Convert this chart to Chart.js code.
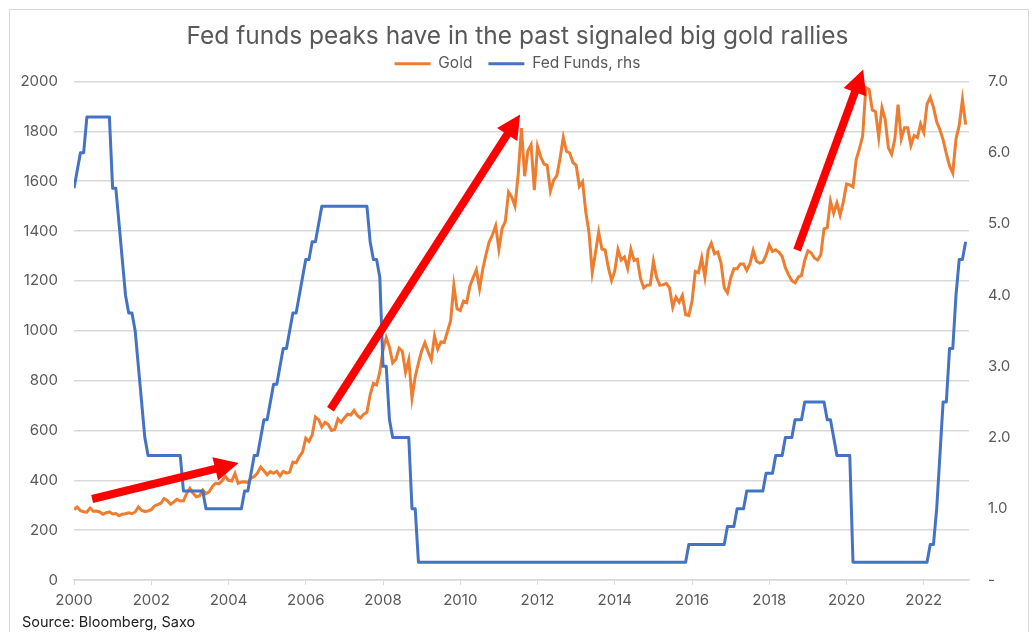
<!DOCTYPE html>
<html>
<head>
<meta charset="utf-8">
<script src="https://cdn.jsdelivr.net/npm/chart.js@4/dist/chart.umd.min.js"></script>
<style>
  body { margin: 0; background: #fff; }
  #wrap { position: relative; width: 1035px; height: 632px; overflow: hidden; }
  #frame { position: absolute; left: 9px; top: 9px; width: 1018px; height: 640px; border: 1px solid #d9d9d9; }
  #source { position: absolute; left: 22px; top: 613px; font: 14.5px Inter, sans-serif; color: #222; }
  canvas { position: absolute; left: 0; top: 0; }
</style>
</head>
<body>
<div id="wrap">
  <div id="frame"></div>
  <canvas id="chart" width="1035" height="632"></canvas>
  <div id="source">Source: Bloomberg, Saxo</div>
</div>
<script>
// monthly, Jan 2000 .. Feb 2023
const startYear = 2000;

const gold = [
  283, 293, 278, 274, 272, 289, 276, 277, 273, 264, 270, 273,
  265, 267, 258, 264, 266, 270, 266, 273, 293, 279, 275, 277,
  282, 297, 302, 308, 327, 318, 304, 313, 324, 317, 318, 347,
  368, 348, 334, 337, 361, 346, 354, 375, 388, 386, 398, 416,
  400, 397, 427, 388, 393, 394, 391, 408, 415, 429, 453, 438,
  422, 435, 428, 436, 418, 436, 429, 433, 473, 470, 495, 513,
  569, 556, 582, 654, 643, 614, 633, 624, 600, 604, 646, 632,
  650, 665, 662, 680, 660, 650, 665, 673, 743, 789, 783, 834,
  923, 972, 934, 871, 886, 930, 918, 834, 884, 730, 815, 870,
  919, 952, 916, 884, 979, 926, 955, 953, 996, 1040, 1182, 1088,
  1081, 1119, 1113, 1180, 1213, 1244, 1169, 1248, 1307, 1357, 1385, 1421,
  1327, 1411, 1439, 1556, 1536, 1500, 1628, 1813, 1620, 1722, 1746, 1564,
  1740, 1697, 1669, 1664, 1561, 1604, 1622, 1692, 1776, 1720, 1713, 1675,
  1664, 1579, 1598, 1476, 1393, 1234, 1313, 1396, 1328, 1324, 1253, 1202,
  1240, 1326, 1284, 1296, 1250, 1327, 1282, 1287, 1210, 1172, 1183, 1184,
  1279, 1213, 1183, 1184, 1190, 1172, 1095, 1135, 1115, 1142, 1065, 1061,
  1118, 1238, 1233, 1293, 1215, 1322, 1351, 1309, 1316, 1273, 1173, 1152,
  1211, 1249, 1249, 1268, 1268, 1242, 1269, 1322, 1280, 1271, 1275, 1303,
  1345, 1318, 1325, 1315, 1298, 1253, 1224, 1201, 1192, 1215, 1222, 1282,
  1321, 1313, 1292, 1284, 1305, 1409, 1413, 1520, 1472, 1513, 1464, 1517,
  1589, 1585, 1577, 1687, 1730, 1781, 1975, 1968, 1886, 1879, 1776, 1895,
  1848, 1734, 1708, 1769, 1907, 1770, 1814, 1814, 1743, 1783, 1775, 1829,
  1796, 1909, 1937, 1897, 1838, 1807, 1766, 1711, 1661, 1633, 1769, 1824,
  1928, 1827
];

const fedFunds = [
  5.5, 5.75, 6.0, 6.0, 6.5, 6.5, 6.5, 6.5, 6.5, 6.5, 6.5, 6.5,
  5.5, 5.5, 5.0, 4.5, 4.0, 3.75, 3.75, 3.5, 3.0, 2.5, 2.0, 1.75,
  1.75, 1.75, 1.75, 1.75, 1.75, 1.75, 1.75, 1.75, 1.75, 1.75, 1.25, 1.25,
  1.25, 1.25, 1.25, 1.25, 1.25, 1.0, 1.0, 1.0, 1.0, 1.0, 1.0, 1.0,
  1.0, 1.0, 1.0, 1.0, 1.0, 1.25, 1.25, 1.5, 1.75, 1.75, 2.0, 2.25,
  2.25, 2.5, 2.75, 2.75, 3.0, 3.25, 3.25, 3.5, 3.75, 3.75, 4.0, 4.25,
  4.5, 4.5, 4.75, 4.75, 5.0, 5.25, 5.25, 5.25, 5.25, 5.25, 5.25, 5.25,
  5.25, 5.25, 5.25, 5.25, 5.25, 5.25, 5.25, 5.25, 4.75, 4.5, 4.5, 4.25,
  3.0, 3.0, 2.25, 2.0, 2.0, 2.0, 2.0, 2.0, 2.0, 1.0, 1.0, 0.25,
  0.25, 0.25, 0.25, 0.25, 0.25, 0.25, 0.25, 0.25, 0.25, 0.25, 0.25, 0.25,
  0.25, 0.25, 0.25, 0.25, 0.25, 0.25, 0.25, 0.25, 0.25, 0.25, 0.25, 0.25,
  0.25, 0.25, 0.25, 0.25, 0.25, 0.25, 0.25, 0.25, 0.25, 0.25, 0.25, 0.25,
  0.25, 0.25, 0.25, 0.25, 0.25, 0.25, 0.25, 0.25, 0.25, 0.25, 0.25, 0.25,
  0.25, 0.25, 0.25, 0.25, 0.25, 0.25, 0.25, 0.25, 0.25, 0.25, 0.25, 0.25,
  0.25, 0.25, 0.25, 0.25, 0.25, 0.25, 0.25, 0.25, 0.25, 0.25, 0.25, 0.25,
  0.25, 0.25, 0.25, 0.25, 0.25, 0.25, 0.25, 0.25, 0.25, 0.25, 0.25, 0.5,
  0.5, 0.5, 0.5, 0.5, 0.5, 0.5, 0.5, 0.5, 0.5, 0.5, 0.5, 0.75,
  0.75, 0.75, 1.0, 1.0, 1.0, 1.25, 1.25, 1.25, 1.25, 1.25, 1.25, 1.5,
  1.5, 1.5, 1.75, 1.75, 1.75, 2.0, 2.0, 2.0, 2.25, 2.25, 2.25, 2.5,
  2.5, 2.5, 2.5, 2.5, 2.5, 2.5, 2.25, 2.25, 2.0, 1.75, 1.75, 1.75,
  1.75, 1.75, 0.25, 0.25, 0.25, 0.25, 0.25, 0.25, 0.25, 0.25, 0.25, 0.25,
  0.25, 0.25, 0.25, 0.25, 0.25, 0.25, 0.25, 0.25, 0.25, 0.25, 0.25, 0.25,
  0.25, 0.25, 0.5, 0.5, 1.0, 1.75, 2.5, 2.5, 3.25, 3.25, 4.0, 4.5,
  4.5, 4.75
];

const xTickYears = [2000, 2002, 2004, 2006, 2008, 2010, 2012, 2014, 2016, 2018, 2020, 2022];

// red arrows, in (year, gold price) terms
const arrows = [
  { from: [2000.47, 325], to: [2004.26, 469] },
  { from: [2006.64, 685], to: [2011.55, 1868] },
  { from: [2018.72, 1323], to: [2020.43, 2048] }
];

const toPoints = vals => vals.map((v, i) => ({ x: startYear + i / 12, y: v }));

const grey = '#595959';
const tickFont = { family: 'Inter', size: 15 };

const arrowPlugin = {
  id: 'arrows',
  afterDatasetsDraw(chart) {
    const { ctx, scales: { x, y } } = chart;
    ctx.save();
    ctx.strokeStyle = '#ff0000';
    ctx.fillStyle = '#ff0000';
    ctx.lineWidth = 8;
    arrows.forEach(a => {
      const x0 = x.getPixelForValue(a.from[0]), y0 = y.getPixelForValue(a.from[1]);
      const x1 = x.getPixelForValue(a.to[0]), y1 = y.getPixelForValue(a.to[1]);
      const ang = Math.atan2(y1 - y0, x1 - x0);
      const head = 24, half = 12;
      const bx = x1 - head * Math.cos(ang), by = y1 - head * Math.sin(ang);
      ctx.beginPath();
      ctx.moveTo(x0, y0);
      ctx.lineTo(bx + 2 * Math.cos(ang), by + 2 * Math.sin(ang));
      ctx.stroke();
      ctx.beginPath();
      ctx.moveTo(x1, y1);
      ctx.lineTo(bx + half * Math.sin(ang), by - half * Math.cos(ang));
      ctx.lineTo(bx - half * Math.sin(ang), by + half * Math.cos(ang));
      ctx.closePath();
      ctx.fill();
    });
    ctx.restore();
  }
};

new Chart(document.getElementById('chart'), {
  type: 'line',
  data: {
    datasets: [
      {
        label: 'Gold',
        data: toPoints(gold),
        borderColor: '#ED7D31',
        backgroundColor: '#ED7D31',
        borderWidth: 3,
        pointRadius: 0,
        tension: 0,
        yAxisID: 'y',
        order: 2
      },
      {
        label: 'Fed Funds, rhs',
        data: toPoints(fedFunds),
        borderColor: '#4472C4',
        backgroundColor: '#4472C4',
        borderWidth: 3,
        pointRadius: 0,
        tension: 0,
        borderJoinStyle: 'round',
        yAxisID: 'y1',
        order: 1
      }
    ]
  },
  options: {
    responsive: false,
    animation: false,
    layout: { padding: 0 },
    plugins: {
      title: {
        display: true,
        text: 'Fed funds peaks have in the past signaled big gold rallies',
        color: grey,
        font: { family: 'Inter', size: 24.5, weight: 'normal' },
        padding: { top: 22, bottom: -11.4 }
      },
      legend: {
        display: true,
        labels: {
          color: grey,
          font: { family: 'Inter', size: 15.5 },
          boxWidth: 36,
          boxHeight: 3,
          padding: 16,
          sort: (a, b) => a.datasetIndex - b.datasetIndex,
          generateLabels: chart => Chart.defaults.plugins.legend.labels.generateLabels(chart)
            .map(l => ({ ...l, strokeStyle: 'rgba(0,0,0,0)', lineWidth: 1 }))
        }
      },
      tooltip: { enabled: false }
    },
    scales: {
      x: {
        type: 'linear',
        min: 2000,
        max: 2023.17,
        afterBuildTicks: s => { s.ticks = xTickYears.map(v => ({ value: v })); },
        afterFit: s => { s.height = 52; },
        ticks: { color: grey, font: tickFont, padding: 6, callback: v => String(v), maxRotation: 0 },
        grid: { drawOnChartArea: false, drawTicks: true, tickLength: 5, color: '#d9d9d9' },
        border: { color: '#d9d9d9', width: 1.5 }
      },
      y: {
        position: 'left',
        min: 0,
        max: 2000,
        afterFit: s => { s.width = 74; },
        ticks: { stepSize: 200, color: grey, font: tickFont, padding: 16, callback: v => String(v) },
        grid: { color: '#d9d9d9', lineWidth: 1.5, drawTicks: false },
        border: { display: false }
      },
      y1: {
        position: 'right',
        min: 0,
        max: 7,
        afterFit: s => { s.width = 66; },
        ticks: { stepSize: 1, color: grey, font: tickFont, padding: 19, callback: v => v === 0 ? '-' : v.toFixed(1) },
        grid: { drawOnChartArea: false, drawTicks: false },
        border: { display: false }
      }
    }
  },
  plugins: [arrowPlugin]
});
</script>
</body>
</html>
